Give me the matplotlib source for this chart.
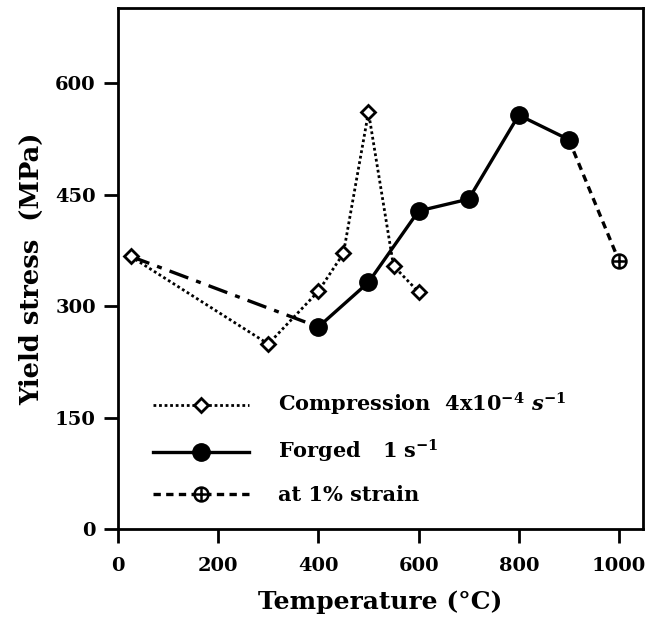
import matplotlib
matplotlib.use("Agg")
import matplotlib.pyplot as plt
from matplotlib.path import Path
from matplotlib.lines import Line2D

plt.rcParams['font.family'] = ['DejaVu Serif']
plt.rcParams['font.weight'] = 'bold'
plt.rcParams['mathtext.fontset'] = 'custom'
plt.rcParams['mathtext.rm'] = 'DejaVu Serif:bold'
plt.rcParams['mathtext.it'] = 'DejaVu Serif:bold:italic'
plt.rcParams['mathtext.bf'] = 'DejaVu Serif:bold'

# Data
comp_T = [25, 300, 400, 450, 500, 550, 600]
comp_S = [367, 249, 320, 371, 561, 354, 319]

forged_T = [400, 500, 600, 700, 800, 900]
forged_S = [272, 332, 428, 444, 557, 524]

# room-temperature link (dash-dot)
link_T = [25, 400]
link_S = [367, 272]

strain_T = [900, 1000]
strain_S = [524, 361]

xticks = [0, 200, 400, 600, 800, 1000]
yticks = [0, 150, 300, 450, 600]

fig = plt.figure(figsize=(6.47, 6.21), dpi=100)
ax = fig.add_axes([0.1824, 0.148, 0.8114, 0.839])

# circle-plus marker
circ = Path.unit_circle()
hline = Path([[-1, 0], [1, 0]], [Path.MOVETO, Path.LINETO])
vline = Path([[0, -1], [0, 1]], [Path.MOVETO, Path.LINETO])
oplus = Path.make_compound_path(circ, hline, vline)

ax.plot(link_T, link_S, color='black', lw=2.4, linestyle=(0, (6, 2.5, 1.5, 2.5)), zorder=2)
ax.plot(strain_T, strain_S, color='black', lw=2.4, linestyle=(0, (2.2, 1.6)), zorder=2)
ax.plot(strain_T[1:], strain_S[1:], linestyle='none', marker=oplus, ms=10,
        mfc='white', mec='black', mew=1.8, zorder=4)
ax.plot(comp_T, comp_S, color='black', lw=2.0, linestyle=(0, (1, 1)),
        marker='D', ms=7.5, mfc='white', mec='black', mew=2.0, zorder=3)
ax.plot(forged_T, forged_S, color='black', lw=2.4, linestyle='-',
        marker='o', ms=12.5, mfc='black', mec='black', zorder=3)

ax.set_xlim(0, 1048)
ax.set_ylim(0, 701)
ax.set_xticks(xticks)
ax.set_yticks(yticks)
ax.tick_params(axis='both', direction='out', length=10, width=2, labelsize=14)
ax.tick_params(axis='y', pad=6)
ax.tick_params(axis='x', pad=10)
for lab in ax.get_xticklabels() + ax.get_yticklabels():
    lab.set_fontweight('bold')
for sp in ax.spines.values():
    sp.set_linewidth(2)

ax.set_xlabel('Temperature (°C)', fontsize=18, fontweight='bold', labelpad=11)
ax.set_ylabel('Yield stress  (MPa)', fontsize=18.5, fontweight='bold', labelpad=8)

h1 = Line2D([], [], color='black', lw=2.0, linestyle=(0, (1, 1)),
            marker='D', ms=7.5, mfc='white', mec='black', mew=2.0)
h2 = Line2D([], [], color='black', lw=2.4, linestyle='-',
            marker='o', ms=12.5, mfc='black', mec='black')
h3 = Line2D([], [], color='black', lw=2.4, linestyle=(0, (2.2, 1.6)),
            marker=oplus, ms=10, mfc='white', mec='black', mew=1.8)
leg = ax.legend([h1, h2, h3],
                ['Compression  4x10$^{-4}$ $s^{-1}$', 'Forged   1 s$^{-1}$', 'at 1% strain'],
                loc='lower left', bbox_to_anchor=(0.067, 0.046), frameon=False,
                borderpad=0, borderaxespad=0,
                handlelength=4.6, handletextpad=1.4, labelspacing=0.95,
                prop={'size': 15, 'weight': 'bold'})

fig.savefig('out.png', dpi=100)
